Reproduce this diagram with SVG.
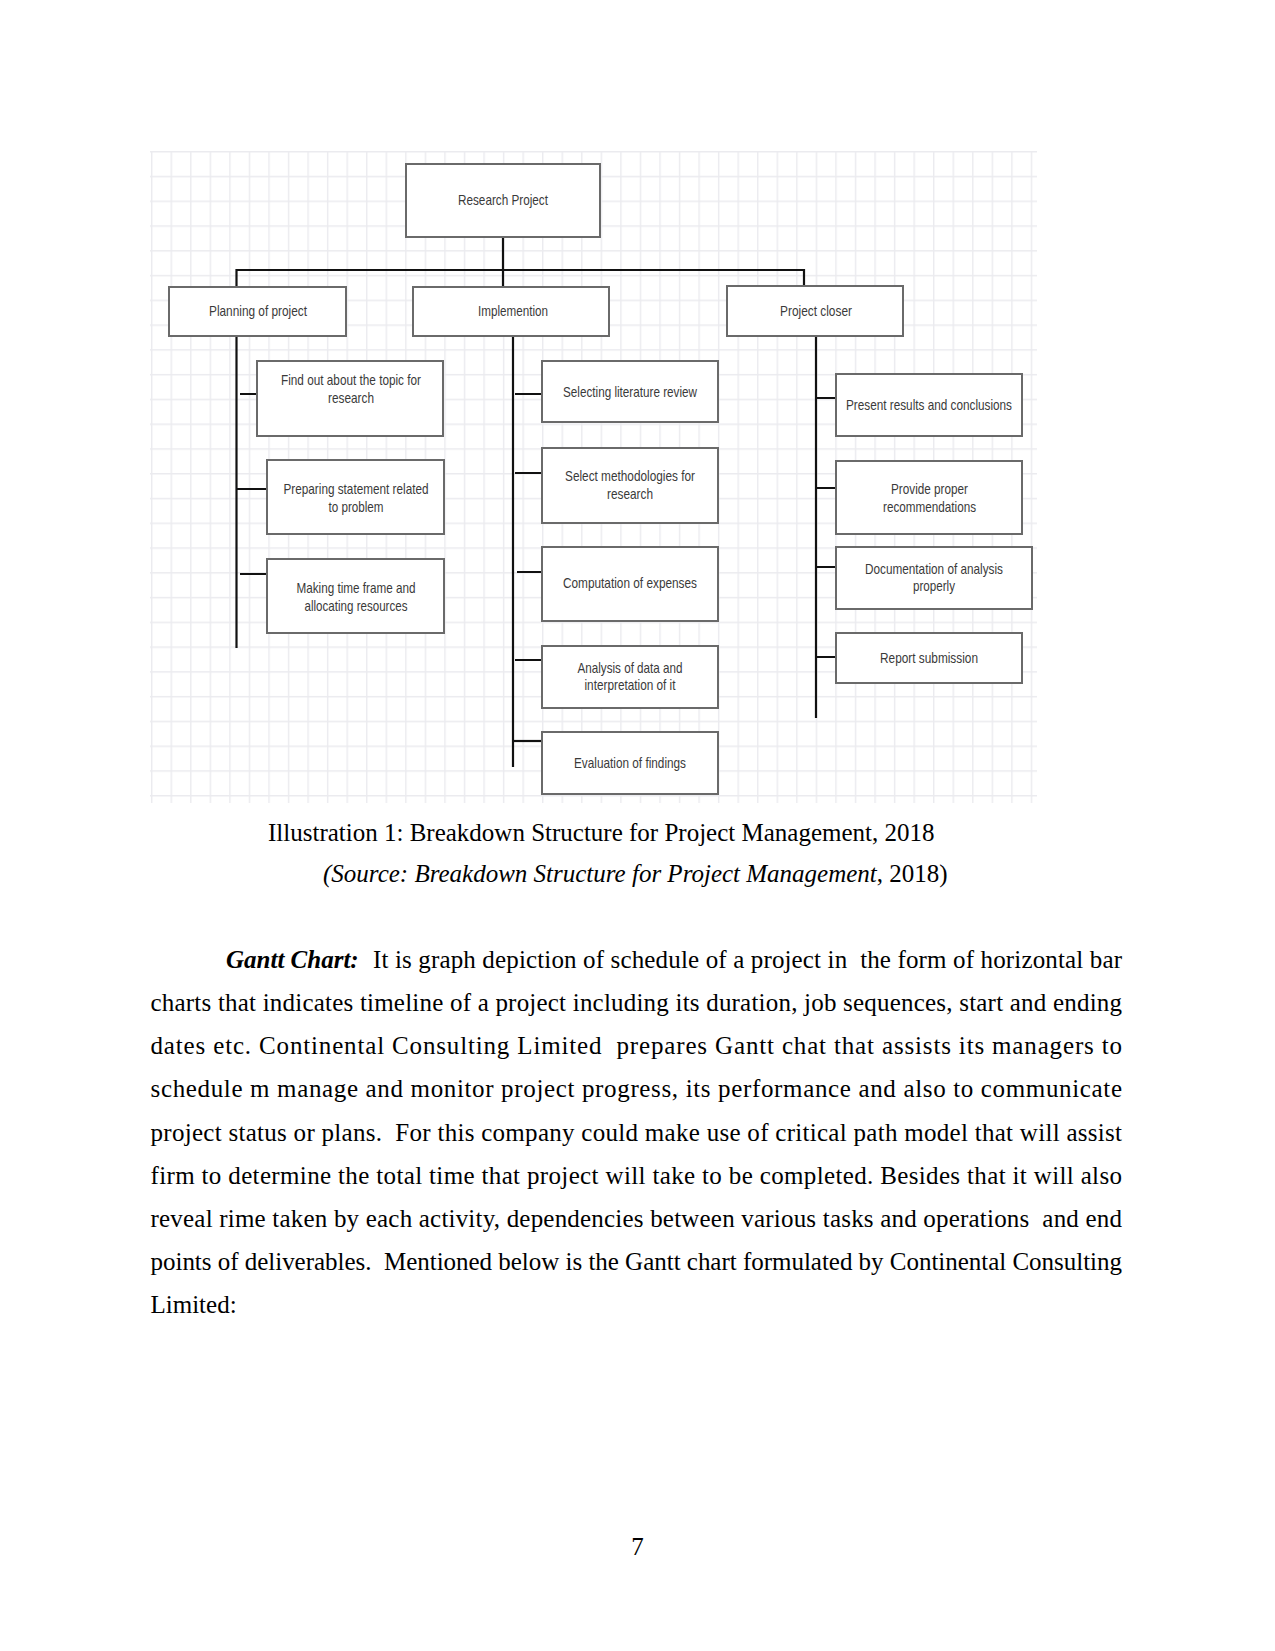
<svg xmlns="http://www.w3.org/2000/svg" width="1275" height="1651" viewBox="0 0 1275 1651">
<defs>
<pattern id="grid" patternUnits="userSpaceOnUse" x="151" y="151" width="19.55" height="24.77">
<path d="M0.7,0 V24.77 M0,0.7 H19.55" stroke="#ebebef" stroke-width="1.4" fill="none"/>
</pattern>
<style>
.box{fill:#ffffff;stroke:#6a6a6a;stroke-width:2}
.lbl{font-family:"Liberation Sans",Arial,sans-serif;font-size:15px;fill:#3a3a3a;text-anchor:middle}
.con{stroke:#111111;stroke-width:2.2;fill:none}
.body{font-family:"Liberation Serif","Times New Roman",serif;font-size:25px;fill:#000000}
</style>
</defs>
<rect width="1275" height="1651" fill="#ffffff"/>
<rect x="150" y="151" width="887" height="652" fill="url(#grid)"/>

<g id="connectors">
<path class="con" d="M503,237 V270 M236.5,270 H804 M236.5,269 V287 M503,270 V287 M804,269 V286"/>
<path class="con" d="M236.5,336 V648 M240,394 H257 M236.5,489 H267 M240,574 H267"/>
<path class="con" d="M513,336 V767 M515,394 H542 M515,473 H542 M517,572 H542 M515,660 H542"/>
<path class="con" stroke-width="3" d="M513,741 H542"/>
<path class="con" d="M816,336 V718 M816,398 H836 M816,488 H836 M816,567 H836 M816,657 H836"/>
</g>

<g id="n-research-project">
<rect class="box" x="406" y="164" width="194" height="73"/>
<text class="lbl" x="503" y="205" textLength="90" lengthAdjust="spacingAndGlyphs">Research Project</text>
</g>
<g id="n-planning">
<rect class="box" x="169" y="287" width="177" height="49"/>
<text class="lbl" x="258" y="316" textLength="98" lengthAdjust="spacingAndGlyphs">Planning of project</text>
</g>
<g id="n-implemention">
<rect class="box" x="413" y="287" width="196" height="49"/>
<text class="lbl" x="513" y="316" textLength="70" lengthAdjust="spacingAndGlyphs">Implemention</text>
</g>
<g id="n-closer">
<rect class="box" x="727" y="286" width="176" height="50"/>
<text class="lbl" x="816" y="316" textLength="72" lengthAdjust="spacingAndGlyphs">Project closer</text>
</g>

<g id="n-find-out">
<rect class="box" x="257" y="361" width="186" height="75"/>
<text class="lbl" x="351" y="385" textLength="140" lengthAdjust="spacingAndGlyphs">Find out about the topic for</text>
<text class="lbl" x="351" y="403" textLength="46" lengthAdjust="spacingAndGlyphs">research</text>
</g>
<g id="n-preparing">
<rect class="box" x="267" y="460" width="177" height="74"/>
<text class="lbl" x="356" y="494" textLength="145" lengthAdjust="spacingAndGlyphs">Preparing statement related</text>
<text class="lbl" x="356" y="511.5" textLength="55" lengthAdjust="spacingAndGlyphs">to problem</text>
</g>
<g id="n-making">
<rect class="box" x="267" y="559" width="177" height="74"/>
<text class="lbl" x="356" y="593" textLength="119" lengthAdjust="spacingAndGlyphs">Making time frame and</text>
<text class="lbl" x="356" y="611" textLength="103" lengthAdjust="spacingAndGlyphs">allocating resources</text>
</g>

<g id="n-literature">
<rect class="box" x="542" y="361" width="176" height="61"/>
<text class="lbl" x="630" y="397" textLength="134" lengthAdjust="spacingAndGlyphs">Selecting literature review</text>
</g>
<g id="n-methodologies">
<rect class="box" x="542" y="448" width="176" height="75"/>
<text class="lbl" x="630" y="480.5" textLength="130" lengthAdjust="spacingAndGlyphs">Select methodologies for</text>
<text class="lbl" x="630" y="498.5" textLength="46" lengthAdjust="spacingAndGlyphs">research</text>
</g>
<g id="n-computation">
<rect class="box" x="542" y="547" width="176" height="74"/>
<text class="lbl" x="630" y="587.5" textLength="134" lengthAdjust="spacingAndGlyphs">Computation of expenses</text>
</g>
<g id="n-analysis">
<rect class="box" x="542" y="646" width="176" height="62"/>
<text class="lbl" x="630" y="672.5" textLength="105" lengthAdjust="spacingAndGlyphs">Analysis of data and</text>
<text class="lbl" x="630" y="690" textLength="91" lengthAdjust="spacingAndGlyphs">interpretation of it</text>
</g>
<g id="n-evaluation">
<rect class="box" x="542" y="732" width="176" height="62"/>
<text class="lbl" x="630" y="767.5" textLength="112" lengthAdjust="spacingAndGlyphs">Evaluation of findings</text>
</g>

<g id="n-present">
<rect class="box" x="836" y="374" width="186" height="62"/>
<text class="lbl" x="929" y="410" textLength="166" lengthAdjust="spacingAndGlyphs">Present results and conclusions</text>
</g>
<g id="n-recommend">
<rect class="box" x="836" y="461" width="186" height="73"/>
<text class="lbl" x="929.5" y="494" textLength="77" lengthAdjust="spacingAndGlyphs">Provide proper</text>
<text class="lbl" x="929.5" y="511.5" textLength="93" lengthAdjust="spacingAndGlyphs">recommendations</text>
</g>
<g id="n-documentation">
<rect class="box" x="836" y="547" width="196" height="62"/>
<text class="lbl" x="934" y="573.5" textLength="138" lengthAdjust="spacingAndGlyphs">Documentation of analysis</text>
<text class="lbl" x="934" y="591" textLength="42" lengthAdjust="spacingAndGlyphs">properly</text>
</g>
<g id="n-report">
<rect class="box" x="836" y="633" width="186" height="50"/>
<text class="lbl" x="929" y="662.5" textLength="98" lengthAdjust="spacingAndGlyphs">Report submission</text>
</g>

<g id="caption">
<text class="body" x="268" y="840.5">Illustration 1: Breakdown Structure for Project Management, 2018</text>
<text class="body" x="323" y="881.5"><tspan font-style="italic">(Source: Breakdown Structure for Project Management</tspan>, 2018)</text>
</g>

<g id="body-text">
<text class="body" x="226" y="967.7" font-weight="bold" font-style="italic">Gantt Chart:</text>
<text class="body" x="373" y="967.7" textLength="749" lengthAdjust="spacing" xml:space="preserve">It is graph depiction of schedule of a project in  the form of horizontal bar</text>
<text class="body" x="150.5" y="1011" textLength="971.5" lengthAdjust="spacing">charts that indicates timeline of a project including its duration, job sequences, start and ending</text>
<text class="body" x="150.5" y="1054.2" textLength="971.5" lengthAdjust="spacing" xml:space="preserve">dates etc. Continental Consulting Limited  prepares Gantt chat that assists its managers to</text>
<text class="body" x="150.5" y="1097.4" textLength="971.5" lengthAdjust="spacing">schedule m manage and monitor project progress, its performance and also to communicate</text>
<text class="body" x="150.5" y="1140.6" textLength="971.5" lengthAdjust="spacing" xml:space="preserve">project status or plans.  For this company could make use of critical path model that will assist</text>
<text class="body" x="150.5" y="1183.8" textLength="971.5" lengthAdjust="spacing">firm to determine the total time that project will take to be completed. Besides that it will also</text>
<text class="body" x="150.5" y="1227" textLength="971.5" lengthAdjust="spacing" xml:space="preserve">reveal rime taken by each activity, dependencies between various tasks and operations  and end</text>
<text class="body" x="150.5" y="1270.2" textLength="971.5" lengthAdjust="spacing" xml:space="preserve">points of deliverables.  Mentioned below is the Gantt chart formulated by Continental Consulting</text>
<text class="body" x="150.5" y="1313.2">Limited:</text>
</g>

<g id="page-number">
<text class="body" x="637.5" y="1555" text-anchor="middle">7</text>
</g>
</svg>
